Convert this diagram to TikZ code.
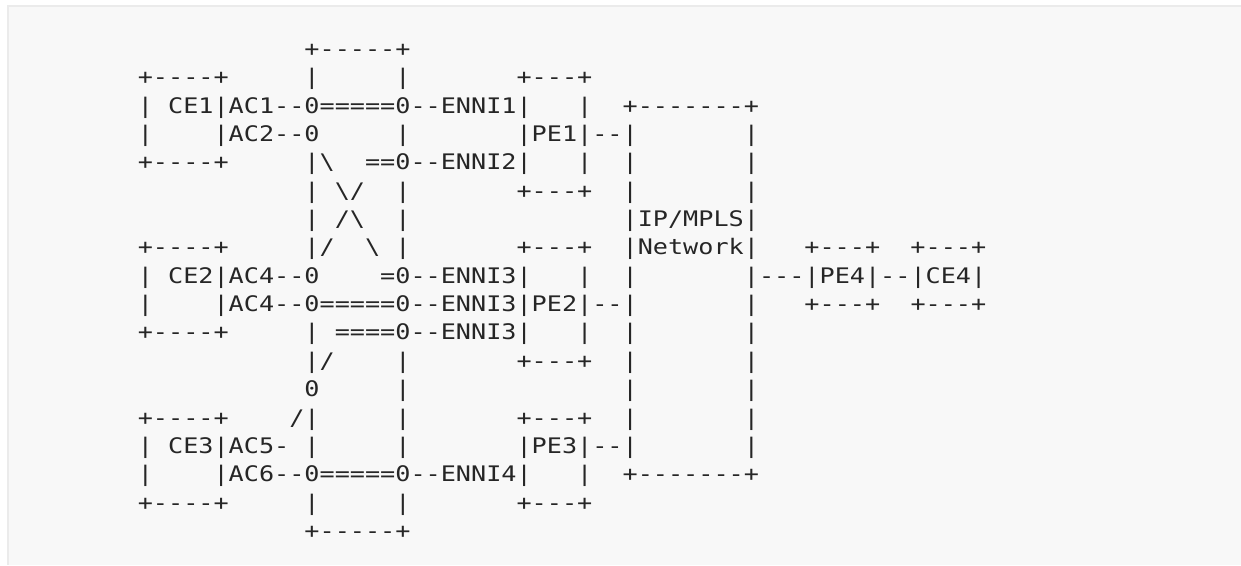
\documentclass[tikz,border=0pt]{standalone}
\usepackage{fontspec}
\newfontfamily\asciifont[FakeStretch=1.176,Ligatures=TeXOff]{DejaVu Sans Mono}
\definecolor{pagebg}{HTML}{F8F8F8}
\definecolor{framegray}{HTML}{EBEBEB}
\definecolor{inkgray}{HTML}{262626}
\tikzset{asciirow/.style={anchor=base west, inner sep=0pt, text=inkgray,
    font=\asciifont\fontsize{21.4}{28}\selectfont}}

\begin{document}
\begin{tikzpicture}[x=1pt, y=1pt]

    \useasboundingbox (0, 0) rectangle (1241, 565);
    \fill[pagebg] (7, 0) rectangle (1241, 559);
    \draw[framegray, line width=2pt] (8, 0) -- (8, 559) -- (1241, 559);

    % one node per line of the drawing
    \node[asciirow] (r1)  at (137.6, 508.40) {~~~~~~~~~~~+-----+};
    \node[asciirow] (r2)  at (137.6, 480.06) {+----+~~~~~|~~~~~|~~~~~~~+---+};
    \node[asciirow] (r3)  at (137.6, 451.72) {|~CE1|AC1--0=====0--ENNI1|~~~|~~+-------+};
    \node[asciirow] (r4)  at (137.6, 423.38) {|~~~~|AC2--0~~~~~|~~~~~~~|PE1|--|~~~~~~~|};
    \node[asciirow] (r5)  at (137.6, 395.04) {+----+~~~~~|\textbackslash~~==0--ENNI2|~~~|~~|~~~~~~~|};
    \node[asciirow] (r6)  at (137.6, 366.70) {~~~~~~~~~~~|~\textbackslash/~~|~~~~~~~+---+~~|~~~~~~~|};
    \node[asciirow] (r7)  at (137.6, 338.36) {~~~~~~~~~~~|~/\textbackslash~~|~~~~~~~~~~~~~~|IP/MPLS|};
    \node[asciirow] (r8)  at (137.6, 310.02) {+----+~~~~~|/~~\textbackslash~|~~~~~~~+---+~~|Network|~~~+---+~~+---+};
    \node[asciirow] (r9)  at (137.6, 281.68) {|~CE2|AC4--0~~~~=0--ENNI3|~~~|~~|~~~~~~~|---|PE4|--|CE4|};
    \node[asciirow] (r10) at (137.6, 253.34) {|~~~~|AC4--0=====0--ENNI3|PE2|--|~~~~~~~|~~~+---+~~+---+};
    \node[asciirow] (r11) at (137.6, 225.00) {+----+~~~~~|~====0--ENNI3|~~~|~~|~~~~~~~|};
    \node[asciirow] (r12) at (137.6, 196.66) {~~~~~~~~~~~|/~~~~|~~~~~~~+---+~~|~~~~~~~|};
    \node[asciirow] (r13) at (137.6, 168.32) {~~~~~~~~~~~0~~~~~|~~~~~~~~~~~~~~|~~~~~~~|};
    \node[asciirow] (r14) at (137.6, 139.98) {+----+~~~~/|~~~~~|~~~~~~~+---+~~|~~~~~~~|};
    \node[asciirow] (r15) at (137.6, 111.64) {|~CE3|AC5-~|~~~~~|~~~~~~~|PE3|--|~~~~~~~|};
    \node[asciirow] (r16) at (137.6,  83.30) {|~~~~|AC6--0=====0--ENNI4|~~~|~~+-------+};
    \node[asciirow] (r17) at (137.6,  54.96) {+----+~~~~~|~~~~~|~~~~~~~+---+};
    \node[asciirow] (r18) at (137.6,  26.62) {~~~~~~~~~~~+-----+};

\end{tikzpicture}
\end{document}
